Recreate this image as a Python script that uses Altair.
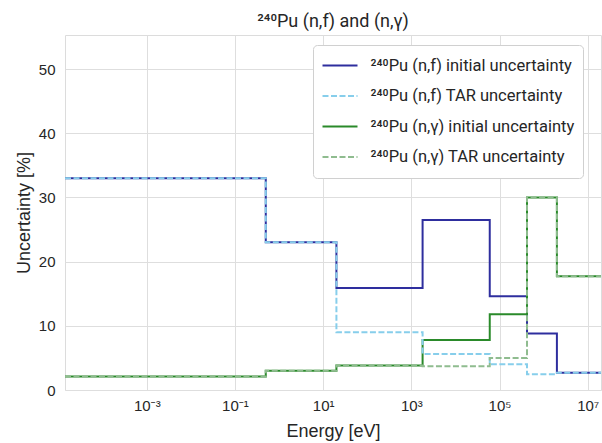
import altair as alt
import pandas as pd

# Group boundaries in eV (step-after edges) and values in %
energies = [1.4e-5, 0.5, 20, 1.8e3, 6.0e4, 4.2e5, 2.0e6, 2.0e7]
nf_initial = [33.0, 23.0, 15.9, 26.5, 14.6, 8.8, 2.7]
nf_tar = [33.0, 23.0, 9.0, 5.6, 4.0, 2.45, 2.7]
ng_initial = [2.1, 3.0, 3.8, 7.8, 11.8, 30.0, 17.7]
ng_tar = [2.1, 3.0, 3.8, 3.7, 5.0, 30.0, 17.7]

series_names = [
    "²⁴⁰Pu (n,f) initial uncertainty",
    "²⁴⁰Pu (n,f) TAR uncertainty",
    "²⁴⁰Pu (n,γ) initial uncertainty",
    "²⁴⁰Pu (n,γ) TAR uncertainty",
]
series_kind = ["initial", "TAR", "initial", "TAR"]
series_values = [nf_initial, nf_tar, ng_initial, ng_tar]
colors = ["#2e2e9e", "#87ceeb", "#2a8a2a", "#8fbc8f"]
dashes = [[1, 0], [6, 2.5], [1, 0], [6, 2.5]]

x_tick_exps = [-3, -1, 1, 3, 5, 7]
sup = {"-": "⁻", "0": "⁰", "1": "¹", "2": "²", "3": "³", "4": "⁴",
       "5": "⁵", "6": "⁶", "7": "⁷", "8": "⁸", "9": "⁹"}

FONT = "Liberation Sans, Noto Sans, DejaVu Sans"
SUP_FONT = "Roboto, Noto Sans, DejaVu Sans"

rows = []
for name, kind, vals in zip(series_names, series_kind, series_values):
    steps = list(vals) + [vals[-1]]
    for e, v in zip(energies, steps):
        rows.append({"series": name, "kind": kind, "E": e, "U": v})
df = pd.DataFrame(rows)

label_expr = "''"
for ex in reversed(x_tick_exps):
    lab = "10" + "".join(sup[c] for c in str(ex))
    label_expr = f"(round(log(datum.value)/LN10) == {ex}) ? '{lab}' : ({label_expr})"

x_enc = alt.X(
    "E:Q",
    scale=alt.Scale(type="log", domain=[1.4e-5, 2.0e7], nice=False),
    axis=alt.Axis(values=[10.0 ** e for e in x_tick_exps], labelExpr=label_expr,
                  title="Energy [eV]", titlePadding=9, labelPadding=8),
)
y_enc = alt.Y(
    "U:Q",
    scale=alt.Scale(domain=[0, 55.3], nice=False),
    axis=alt.Axis(values=[0, 10, 20, 30, 40, 50], title="Uncertainty [%]",
                  titlePadding=5, labelPadding=10),
)
legend = alt.Legend(title=None, orient="none", legendX=248, legendY=10,
                    symbolType="stroke", symbolSize=1225, symbolStrokeWidth=2,
                    clipHeight=24, rowPadding=6.5, padding=8.5, labelOffset=12,
                    labelFont=SUP_FONT, labelFontSize=16.5, labelColor="#262626",
                    labelLimit=400, strokeColor="#d0d0d0", fillColor="white",
                    cornerRadius=4)
color_enc = alt.Color("series:N", scale=alt.Scale(domain=series_names, range=colors),
                      legend=legend)
dash_enc = alt.StrokeDash("series:N", scale=alt.Scale(domain=series_names, range=dashes),
                          legend=legend)

base = alt.Chart(df)
solid = base.transform_filter(alt.datum.kind == "initial").mark_line(
    interpolate="step-after", strokeWidth=2, clip=True
).encode(x=x_enc, y=y_enc, color=color_enc, strokeDash=dash_enc,
         order=alt.Order("E:Q"))
dashed = base.transform_filter(alt.datum.kind == "TAR").mark_line(
    interpolate="step-after", strokeWidth=2, clip=True
).encode(x=x_enc, y=y_enc, color=color_enc, strokeDash=dash_enc,
         order=alt.Order("E:Q"))

chart = alt.layer(solid, dashed).properties(
    width=536, height=355,
    background="white",
    title=alt.Title("²⁴⁰Pu (n,f) and (n,γ)", fontSize=18, fontWeight="normal",
                    font=SUP_FONT, color="#262626", offset=4),
    autosize=alt.AutoSizeParams(type="none"),
    padding={"left": 65, "top": 35, "right": 1, "bottom": 53},
).configure_view(stroke="#dcdcdc", strokeWidth=1).configure_axis(
    domain=False, ticks=False, gridColor="#dedede", gridWidth=1,
    labelFont=FONT, labelFontSize=15, labelColor="#262626",
    titleFont=FONT, titleFontSize=18, titleFontWeight="normal",
    titleColor="#262626",
)

chart.save("out.html", embed_options={"renderer": "svg", "actions": False})
